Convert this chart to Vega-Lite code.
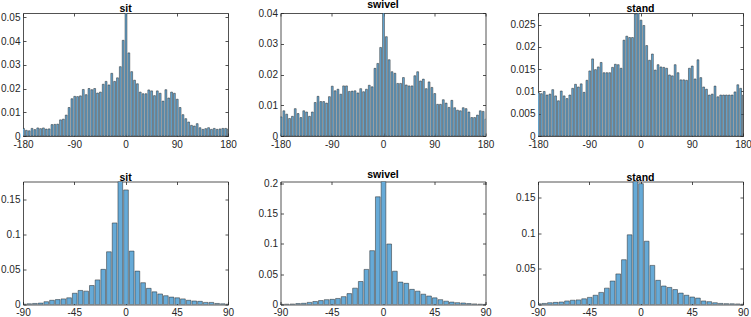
{
  "$schema": "https://vega.github.io/schema/vega-lite/v6.json",
  "background": "white",
  "padding": {"left": 0, "top": -1, "right": 0, "bottom": 0},
  "datasets": {
    "sit_full": [
      {"lo":-182.5,"hi":-177.5,"v":0.0032},{"lo":-177.5,"hi":-172.5,"v":0.0024},{"lo":-172.5,"hi":-167.5,"v":0.0022},
      {"lo":-167.5,"hi":-162.5,"v":0.0032},{"lo":-162.5,"hi":-157.5,"v":0.0027},{"lo":-157.5,"hi":-152.5,"v":0.0034},
      {"lo":-152.5,"hi":-147.5,"v":0.0031},{"lo":-147.5,"hi":-142.5,"v":0.0034},{"lo":-142.5,"hi":-137.5,"v":0.0029},
      {"lo":-137.5,"hi":-132.5,"v":0.0030},{"lo":-132.5,"hi":-127.5,"v":0.0048},{"lo":-127.5,"hi":-122.5,"v":0.0049},
      {"lo":-122.5,"hi":-117.5,"v":0.0050},{"lo":-117.5,"hi":-112.5,"v":0.0068},{"lo":-112.5,"hi":-107.5,"v":0.0071},
      {"lo":-107.5,"hi":-102.5,"v":0.0088},{"lo":-102.5,"hi":-97.5,"v":0.0120},{"lo":-97.5,"hi":-92.5,"v":0.0157},
      {"lo":-92.5,"hi":-87.5,"v":0.0167},{"lo":-87.5,"hi":-82.5,"v":0.0166},{"lo":-82.5,"hi":-77.5,"v":0.0169},
      {"lo":-77.5,"hi":-72.5,"v":0.0196},{"lo":-72.5,"hi":-67.5,"v":0.0174},{"lo":-67.5,"hi":-62.5,"v":0.0200},
      {"lo":-62.5,"hi":-57.5,"v":0.0195},{"lo":-57.5,"hi":-52.5,"v":0.0200},{"lo":-52.5,"hi":-47.5,"v":0.0181},
      {"lo":-47.5,"hi":-42.5,"v":0.0185},{"lo":-42.5,"hi":-37.5,"v":0.0218},{"lo":-37.5,"hi":-32.5,"v":0.0230},
      {"lo":-32.5,"hi":-27.5,"v":0.0215},{"lo":-27.5,"hi":-22.5,"v":0.0264},{"lo":-22.5,"hi":-17.5,"v":0.0230},
      {"lo":-17.5,"hi":-12.5,"v":0.0245},{"lo":-12.5,"hi":-7.5,"v":0.0292},{"lo":-7.5,"hi":-2.5,"v":0.0403},
      {"lo":-2.5,"hi":2.5,"v":0.0518},
      {"lo":2.5,"hi":7.5,"v":0.0350},{"lo":7.5,"hi":12.5,"v":0.0271},{"lo":12.5,"hi":17.5,"v":0.0235},
      {"lo":17.5,"hi":22.5,"v":0.0220},{"lo":22.5,"hi":27.5,"v":0.0185},{"lo":27.5,"hi":32.5,"v":0.0178},
      {"lo":32.5,"hi":37.5,"v":0.0178},{"lo":37.5,"hi":42.5,"v":0.0194},{"lo":42.5,"hi":47.5,"v":0.0190},
      {"lo":47.5,"hi":52.5,"v":0.0170},{"lo":52.5,"hi":57.5,"v":0.0190},{"lo":57.5,"hi":62.5,"v":0.0180},
      {"lo":62.5,"hi":67.5,"v":0.0147},{"lo":67.5,"hi":72.5,"v":0.0195},{"lo":72.5,"hi":77.5,"v":0.0160},
      {"lo":77.5,"hi":82.5,"v":0.0185},{"lo":82.5,"hi":87.5,"v":0.0180},{"lo":87.5,"hi":92.5,"v":0.0155},
      {"lo":92.5,"hi":97.5,"v":0.0120},{"lo":97.5,"hi":102.5,"v":0.0090},{"lo":102.5,"hi":107.5,"v":0.0073},
      {"lo":107.5,"hi":112.5,"v":0.0059},{"lo":112.5,"hi":117.5,"v":0.0045},{"lo":117.5,"hi":122.5,"v":0.0042},
      {"lo":122.5,"hi":127.5,"v":0.0052},{"lo":127.5,"hi":132.5,"v":0.0035},{"lo":132.5,"hi":137.5,"v":0.0028},
      {"lo":137.5,"hi":142.5,"v":0.0031},{"lo":142.5,"hi":147.5,"v":0.0035},{"lo":147.5,"hi":152.5,"v":0.0028},
      {"lo":152.5,"hi":157.5,"v":0.0032},{"lo":157.5,"hi":162.5,"v":0.0028},{"lo":162.5,"hi":167.5,"v":0.0030},
      {"lo":167.5,"hi":172.5,"v":0.0032},{"lo":172.5,"hi":177.5,"v":0.0032},{"lo":177.5,"hi":182.5,"v":0.0030}
    ],
    "swivel_full": [
      {"lo":-182.5,"hi":-177.5,"v":0.0062},{"lo":-177.5,"hi":-172.5,"v":0.0082},{"lo":-172.5,"hi":-167.5,"v":0.0071},
      {"lo":-167.5,"hi":-162.5,"v":0.0057},{"lo":-162.5,"hi":-157.5,"v":0.0064},{"lo":-157.5,"hi":-152.5,"v":0.0089},
      {"lo":-152.5,"hi":-147.5,"v":0.0073},{"lo":-147.5,"hi":-142.5,"v":0.0060},{"lo":-142.5,"hi":-137.5,"v":0.0082},
      {"lo":-137.5,"hi":-132.5,"v":0.0078},{"lo":-132.5,"hi":-127.5,"v":0.0064},{"lo":-127.5,"hi":-122.5,"v":0.0078},
      {"lo":-122.5,"hi":-117.5,"v":0.0109},{"lo":-117.5,"hi":-112.5,"v":0.0129},{"lo":-112.5,"hi":-107.5,"v":0.0112},
      {"lo":-107.5,"hi":-102.5,"v":0.0112},{"lo":-102.5,"hi":-97.5,"v":0.0107},{"lo":-97.5,"hi":-92.5,"v":0.0128},
      {"lo":-92.5,"hi":-87.5,"v":0.0162},{"lo":-87.5,"hi":-82.5,"v":0.0147},{"lo":-82.5,"hi":-77.5,"v":0.0152},
      {"lo":-77.5,"hi":-72.5,"v":0.0136},{"lo":-72.5,"hi":-67.5,"v":0.0163},{"lo":-67.5,"hi":-62.5,"v":0.0163},
      {"lo":-62.5,"hi":-57.5,"v":0.0145},{"lo":-57.5,"hi":-52.5,"v":0.0146},{"lo":-52.5,"hi":-47.5,"v":0.0147},
      {"lo":-47.5,"hi":-42.5,"v":0.0140},{"lo":-42.5,"hi":-37.5,"v":0.0154},{"lo":-37.5,"hi":-32.5,"v":0.0144},
      {"lo":-32.5,"hi":-27.5,"v":0.0152},{"lo":-27.5,"hi":-22.5,"v":0.0165},{"lo":-22.5,"hi":-17.5,"v":0.0160},
      {"lo":-17.5,"hi":-12.5,"v":0.0220},{"lo":-12.5,"hi":-7.5,"v":0.0236},{"lo":-7.5,"hi":-2.5,"v":0.0288},
      {"lo":-2.5,"hi":2.5,"v":0.0400},
      {"lo":2.5,"hi":7.5,"v":0.0323},{"lo":7.5,"hi":12.5,"v":0.0248},{"lo":12.5,"hi":17.5,"v":0.0209},
      {"lo":17.5,"hi":22.5,"v":0.0204},{"lo":22.5,"hi":27.5,"v":0.0171},{"lo":27.5,"hi":32.5,"v":0.0171},
      {"lo":32.5,"hi":37.5,"v":0.0190},{"lo":37.5,"hi":42.5,"v":0.0166},{"lo":42.5,"hi":47.5,"v":0.0163},
      {"lo":47.5,"hi":52.5,"v":0.0163},{"lo":52.5,"hi":57.5,"v":0.0196},{"lo":57.5,"hi":62.5,"v":0.0209},
      {"lo":62.5,"hi":67.5,"v":0.0179},{"lo":67.5,"hi":72.5,"v":0.0185},{"lo":72.5,"hi":77.5,"v":0.0154},
      {"lo":77.5,"hi":82.5,"v":0.0176},{"lo":82.5,"hi":87.5,"v":0.0158},{"lo":87.5,"hi":92.5,"v":0.0138},
      {"lo":92.5,"hi":97.5,"v":0.0103},{"lo":97.5,"hi":102.5,"v":0.0103},{"lo":102.5,"hi":107.5,"v":0.0118},
      {"lo":107.5,"hi":112.5,"v":0.0107},{"lo":112.5,"hi":117.5,"v":0.0093},{"lo":117.5,"hi":122.5,"v":0.0116},
      {"lo":122.5,"hi":127.5,"v":0.0092},{"lo":127.5,"hi":132.5,"v":0.0084},{"lo":132.5,"hi":137.5,"v":0.0082},
      {"lo":137.5,"hi":142.5,"v":0.0092},{"lo":142.5,"hi":147.5,"v":0.0089},{"lo":147.5,"hi":152.5,"v":0.0078},
      {"lo":152.5,"hi":157.5,"v":0.0060},{"lo":157.5,"hi":162.5,"v":0.0060},{"lo":162.5,"hi":167.5,"v":0.0068},
      {"lo":167.5,"hi":172.5,"v":0.0082},{"lo":172.5,"hi":177.5,"v":0.0080},{"lo":177.5,"hi":182.5,"v":0.0055}
    ],
    "stand_full": [
      {"lo":-182.5,"hi":-177.5,"v":0.0097},{"lo":-177.5,"hi":-172.5,"v":0.0095},{"lo":-172.5,"hi":-167.5,"v":0.0100},
      {"lo":-167.5,"hi":-162.5,"v":0.0092},{"lo":-162.5,"hi":-157.5,"v":0.0094},{"lo":-157.5,"hi":-152.5,"v":0.0104},
      {"lo":-152.5,"hi":-147.5,"v":0.0090},{"lo":-147.5,"hi":-142.5,"v":0.0079},{"lo":-142.5,"hi":-137.5,"v":0.0101},
      {"lo":-137.5,"hi":-132.5,"v":0.0090},{"lo":-132.5,"hi":-127.5,"v":0.0084},{"lo":-127.5,"hi":-122.5,"v":0.0092},
      {"lo":-122.5,"hi":-117.5,"v":0.0107},{"lo":-117.5,"hi":-112.5,"v":0.0116},{"lo":-112.5,"hi":-107.5,"v":0.0110},
      {"lo":-107.5,"hi":-102.5,"v":0.0117},{"lo":-102.5,"hi":-97.5,"v":0.0098},{"lo":-97.5,"hi":-92.5,"v":0.0125},
      {"lo":-92.5,"hi":-87.5,"v":0.0146},{"lo":-87.5,"hi":-82.5,"v":0.0173},{"lo":-82.5,"hi":-77.5,"v":0.0149},
      {"lo":-77.5,"hi":-72.5,"v":0.0155},{"lo":-72.5,"hi":-67.5,"v":0.0165},{"lo":-67.5,"hi":-62.5,"v":0.0142},
      {"lo":-62.5,"hi":-57.5,"v":0.0142},{"lo":-57.5,"hi":-52.5,"v":0.0142},{"lo":-52.5,"hi":-47.5,"v":0.0154},
      {"lo":-47.5,"hi":-42.5,"v":0.0161},{"lo":-42.5,"hi":-37.5,"v":0.0160},{"lo":-37.5,"hi":-32.5,"v":0.0152},
      {"lo":-32.5,"hi":-27.5,"v":0.0215},{"lo":-27.5,"hi":-22.5,"v":0.0224},{"lo":-22.5,"hi":-17.5,"v":0.0221},
      {"lo":-17.5,"hi":-12.5,"v":0.0221},{"lo":-12.5,"hi":-7.5,"v":0.0274},{"lo":-7.5,"hi":-2.5,"v":0.0276},
      {"lo":-2.5,"hi":2.5,"v":0.0260},
      {"lo":2.5,"hi":7.5,"v":0.0248},{"lo":7.5,"hi":12.5,"v":0.0203},{"lo":12.5,"hi":17.5,"v":0.0170},
      {"lo":17.5,"hi":22.5,"v":0.0184},{"lo":22.5,"hi":27.5,"v":0.0148},{"lo":27.5,"hi":32.5,"v":0.0160},
      {"lo":32.5,"hi":37.5,"v":0.0155},{"lo":37.5,"hi":42.5,"v":0.0154},{"lo":42.5,"hi":47.5,"v":0.0152},
      {"lo":47.5,"hi":52.5,"v":0.0137},{"lo":52.5,"hi":57.5,"v":0.0135},{"lo":57.5,"hi":62.5,"v":0.0160},
      {"lo":62.5,"hi":67.5,"v":0.0142},{"lo":67.5,"hi":72.5,"v":0.0126},{"lo":72.5,"hi":77.5,"v":0.0126},
      {"lo":77.5,"hi":82.5,"v":0.0125},{"lo":82.5,"hi":87.5,"v":0.0152},{"lo":87.5,"hi":92.5,"v":0.0157},
      {"lo":92.5,"hi":97.5,"v":0.0128},{"lo":97.5,"hi":102.5,"v":0.0171},{"lo":102.5,"hi":107.5,"v":0.0131},
      {"lo":107.5,"hi":112.5,"v":0.0110},{"lo":112.5,"hi":117.5,"v":0.0105},{"lo":117.5,"hi":122.5,"v":0.0092},
      {"lo":122.5,"hi":127.5,"v":0.0094},{"lo":127.5,"hi":132.5,"v":0.0112},{"lo":132.5,"hi":137.5,"v":0.0088},
      {"lo":137.5,"hi":142.5,"v":0.0092},{"lo":142.5,"hi":147.5,"v":0.0092},{"lo":147.5,"hi":152.5,"v":0.0092},
      {"lo":152.5,"hi":157.5,"v":0.0092},{"lo":157.5,"hi":162.5,"v":0.0092},{"lo":162.5,"hi":167.5,"v":0.0099},
      {"lo":167.5,"hi":172.5,"v":0.0115},{"lo":172.5,"hi":177.5,"v":0.0107},{"lo":177.5,"hi":182.5,"v":0.0092}
    ],
    "sit_near": [
      {"lo":-92.5,"hi":-87.5,"v":0.0005},{"lo":-87.5,"hi":-82.5,"v":0.0010},{"lo":-82.5,"hi":-77.5,"v":0.0015},
      {"lo":-77.5,"hi":-72.5,"v":0.0020},{"lo":-72.5,"hi":-67.5,"v":0.0040},{"lo":-67.5,"hi":-62.5,"v":0.0060},
      {"lo":-62.5,"hi":-57.5,"v":0.0070},{"lo":-57.5,"hi":-52.5,"v":0.0080},{"lo":-52.5,"hi":-47.5,"v":0.0095},
      {"lo":-47.5,"hi":-42.5,"v":0.0160},{"lo":-42.5,"hi":-37.5,"v":0.0200},{"lo":-37.5,"hi":-32.5,"v":0.0190},
      {"lo":-32.5,"hi":-27.5,"v":0.0270},{"lo":-27.5,"hi":-22.5,"v":0.0350},{"lo":-22.5,"hi":-17.5,"v":0.0500},
      {"lo":-17.5,"hi":-12.5,"v":0.0750},{"lo":-12.5,"hi":-7.5,"v":0.1160},{"lo":-7.5,"hi":-2.5,"v":0.1750},
      {"lo":-2.5,"hi":2.5,"v":0.1630},{"lo":2.5,"hi":7.5,"v":0.0760},{"lo":7.5,"hi":12.5,"v":0.0475},
      {"lo":12.5,"hi":17.5,"v":0.0310},{"lo":17.5,"hi":22.5,"v":0.0230},{"lo":22.5,"hi":27.5,"v":0.0180},
      {"lo":27.5,"hi":32.5,"v":0.0150},{"lo":32.5,"hi":37.5,"v":0.0125},{"lo":37.5,"hi":42.5,"v":0.0105},
      {"lo":42.5,"hi":47.5,"v":0.0095},{"lo":47.5,"hi":52.5,"v":0.0080},{"lo":52.5,"hi":57.5,"v":0.0060},
      {"lo":57.5,"hi":62.5,"v":0.0050},{"lo":62.5,"hi":67.5,"v":0.0045},{"lo":67.5,"hi":72.5,"v":0.0030},
      {"lo":72.5,"hi":77.5,"v":0.0030},{"lo":77.5,"hi":82.5,"v":0.0015},{"lo":82.5,"hi":87.5,"v":0.0010},
      {"lo":87.5,"hi":92.5,"v":0.0005}
    ],
    "swivel_near": [
      {"lo":-92.5,"hi":-87.5,"v":0.0003},{"lo":-87.5,"hi":-82.5,"v":0.0005},{"lo":-82.5,"hi":-77.5,"v":0.0008},
      {"lo":-77.5,"hi":-72.5,"v":0.0015},{"lo":-72.5,"hi":-67.5,"v":0.0020},{"lo":-67.5,"hi":-62.5,"v":0.0035},
      {"lo":-62.5,"hi":-57.5,"v":0.0050},{"lo":-57.5,"hi":-52.5,"v":0.0065},{"lo":-52.5,"hi":-47.5,"v":0.0080},
      {"lo":-47.5,"hi":-42.5,"v":0.0085},{"lo":-42.5,"hi":-37.5,"v":0.0100},{"lo":-37.5,"hi":-32.5,"v":0.0130},
      {"lo":-32.5,"hi":-27.5,"v":0.0180},{"lo":-27.5,"hi":-22.5,"v":0.0270},{"lo":-22.5,"hi":-17.5,"v":0.0380},
      {"lo":-17.5,"hi":-12.5,"v":0.0580},{"lo":-12.5,"hi":-7.5,"v":0.0890},{"lo":-7.5,"hi":-2.5,"v":0.1780},
      {"lo":-2.5,"hi":2.5,"v":0.2033},{"lo":2.5,"hi":7.5,"v":0.1000},{"lo":7.5,"hi":12.5,"v":0.0550},
      {"lo":12.5,"hi":17.5,"v":0.0370},{"lo":17.5,"hi":22.5,"v":0.0350},{"lo":22.5,"hi":27.5,"v":0.0250},
      {"lo":27.5,"hi":32.5,"v":0.0220},{"lo":32.5,"hi":37.5,"v":0.0170},{"lo":37.5,"hi":42.5,"v":0.0140},
      {"lo":42.5,"hi":47.5,"v":0.0110},{"lo":47.5,"hi":52.5,"v":0.0080},{"lo":52.5,"hi":57.5,"v":0.0055},
      {"lo":57.5,"hi":62.5,"v":0.0040},{"lo":62.5,"hi":67.5,"v":0.0030},{"lo":67.5,"hi":72.5,"v":0.0025},
      {"lo":72.5,"hi":77.5,"v":0.0015},{"lo":77.5,"hi":82.5,"v":0.0010},{"lo":82.5,"hi":87.5,"v":0.0005},
      {"lo":87.5,"hi":92.5,"v":0.0003}
    ],
    "stand_near": [
      {"lo":-92.5,"hi":-87.5,"v":0.0010},{"lo":-87.5,"hi":-82.5,"v":0.0015},{"lo":-82.5,"hi":-77.5,"v":0.0025},
      {"lo":-77.5,"hi":-72.5,"v":0.0030},{"lo":-72.5,"hi":-67.5,"v":0.0035},{"lo":-67.5,"hi":-62.5,"v":0.0050},
      {"lo":-62.5,"hi":-57.5,"v":0.0060},{"lo":-57.5,"hi":-52.5,"v":0.0065},{"lo":-52.5,"hi":-47.5,"v":0.0080},
      {"lo":-47.5,"hi":-42.5,"v":0.0100},{"lo":-42.5,"hi":-37.5,"v":0.0130},{"lo":-37.5,"hi":-32.5,"v":0.0170},
      {"lo":-32.5,"hi":-27.5,"v":0.0230},{"lo":-27.5,"hi":-22.5,"v":0.0330},{"lo":-22.5,"hi":-17.5,"v":0.0430},
      {"lo":-17.5,"hi":-12.5,"v":0.0630},{"lo":-12.5,"hi":-7.5,"v":0.0980},{"lo":-7.5,"hi":-2.5,"v":0.1730},
      {"lo":-2.5,"hi":2.5,"v":0.1700},{"lo":2.5,"hi":7.5,"v":0.0890},{"lo":7.5,"hi":12.5,"v":0.0550},
      {"lo":12.5,"hi":17.5,"v":0.0340},{"lo":17.5,"hi":22.5,"v":0.0260},{"lo":22.5,"hi":27.5,"v":0.0240},
      {"lo":27.5,"hi":32.5,"v":0.0210},{"lo":32.5,"hi":37.5,"v":0.0160},{"lo":37.5,"hi":42.5,"v":0.0130},
      {"lo":42.5,"hi":47.5,"v":0.0105},{"lo":47.5,"hi":52.5,"v":0.0090},{"lo":52.5,"hi":57.5,"v":0.0050},
      {"lo":57.5,"hi":62.5,"v":0.0040},{"lo":62.5,"hi":67.5,"v":0.0025},{"lo":67.5,"hi":72.5,"v":0.0015},
      {"lo":72.5,"hi":77.5,"v":0.0012},{"lo":77.5,"hi":82.5,"v":0.0010},{"lo":82.5,"hi":87.5,"v":0.0008},
      {"lo":87.5,"hi":92.5,"v":0.0005}
    ]
  },
  "columns": 3,
  "spacing": {"row": 45.5, "column": 52.5},
  "bounds": "flush",
  "concat": [
    {
      "data": {"name": "sit_full"}, "width": 205, "height": 123, "title": {"text": "sit"},
      "layer": [
        {"mark": {"type": "bar", "clip": true, "fill": "#66aad7", "stroke": "#262626", "strokeWidth": 0.5},
         "encoding": {
           "x": {"field": "lo", "type": "quantitative", "bin": {"binned": true}, "scale": {"domain": [-180, 180], "nice": false, "zero": false}, "axis": {"orient": "bottom", "title": null, "values": [-180, -90, 0, 90, 180]}},
           "x2": {"field": "hi"},
           "y": {"field": "v", "type": "quantitative", "scale": {"domain": [0, 0.0518], "nice": false}, "axis": {"orient": "left", "title": null, "values": [0, 0.01, 0.02, 0.03, 0.04, 0.05]}}}},
        {"transform": [{"filter": "false"}],
         "mark": {"type": "rule", "clip": true},
         "encoding": {
           "x": {"field": "lo", "type": "quantitative", "scale": {"domain": [-180, 180], "nice": false, "zero": false}, "axis": {"orient": "top", "title": null, "labels": false, "values": [-180, -90, 0, 90, 180]}},
           "y": {"field": "v", "type": "quantitative", "scale": {"domain": [0, 0.0518], "nice": false}, "axis": {"orient": "right", "title": null, "labels": false, "values": [0, 0.01, 0.02, 0.03, 0.04, 0.05]}}}}
      ],
      "resolve": {"axis": {"x": "independent", "y": "independent"}}
    },
    {
      "data": {"name": "swivel_full"}, "width": 205, "height": 123, "title": {"text": "swivel"},
      "layer": [
        {"mark": {"type": "bar", "clip": true, "fill": "#66aad7", "stroke": "#262626", "strokeWidth": 0.5},
         "encoding": {
           "x": {"field": "lo", "type": "quantitative", "bin": {"binned": true}, "scale": {"domain": [-180, 180], "nice": false, "zero": false}, "axis": {"orient": "bottom", "title": null, "values": [-180, -90, 0, 90, 180]}},
           "x2": {"field": "hi"},
           "y": {"field": "v", "type": "quantitative", "scale": {"domain": [0, 0.04], "nice": false}, "axis": {"orient": "left", "title": null, "values": [0, 0.01, 0.02, 0.03, 0.04]}}}},
        {"transform": [{"filter": "false"}],
         "mark": {"type": "rule", "clip": true},
         "encoding": {
           "x": {"field": "lo", "type": "quantitative", "scale": {"domain": [-180, 180], "nice": false, "zero": false}, "axis": {"orient": "top", "title": null, "labels": false, "values": [-180, -90, 0, 90, 180]}},
           "y": {"field": "v", "type": "quantitative", "scale": {"domain": [0, 0.04], "nice": false}, "axis": {"orient": "right", "title": null, "labels": false, "values": [0, 0.01, 0.02, 0.03, 0.04]}}}}
      ],
      "resolve": {"axis": {"x": "independent", "y": "independent"}}
    },
    {
      "data": {"name": "stand_full"}, "width": 205, "height": 123, "title": {"text": "stand"},
      "layer": [
        {"mark": {"type": "bar", "clip": true, "fill": "#66aad7", "stroke": "#262626", "strokeWidth": 0.5},
         "encoding": {
           "x": {"field": "lo", "type": "quantitative", "bin": {"binned": true}, "scale": {"domain": [-180, 180], "nice": false, "zero": false}, "axis": {"orient": "bottom", "title": null, "values": [-180, -90, 0, 90, 180]}},
           "x2": {"field": "hi"},
           "y": {"field": "v", "type": "quantitative", "scale": {"domain": [0, 0.0276], "nice": false}, "axis": {"orient": "left", "title": null, "values": [0, 0.005, 0.01, 0.015, 0.02, 0.025]}}}},
        {"transform": [{"filter": "false"}],
         "mark": {"type": "rule", "clip": true},
         "encoding": {
           "x": {"field": "lo", "type": "quantitative", "scale": {"domain": [-180, 180], "nice": false, "zero": false}, "axis": {"orient": "top", "title": null, "labels": false, "values": [-180, -90, 0, 90, 180]}},
           "y": {"field": "v", "type": "quantitative", "scale": {"domain": [0, 0.0276], "nice": false}, "axis": {"orient": "right", "title": null, "labels": false, "values": [0, 0.005, 0.01, 0.015, 0.02, 0.025]}}}}
      ],
      "resolve": {"axis": {"x": "independent", "y": "independent"}}
    },
    {
      "data": {"name": "sit_near"}, "width": 205, "height": 123, "title": {"text": "sit"},
      "layer": [
        {"mark": {"type": "bar", "clip": true, "fill": "#66aad7", "stroke": "#262626", "strokeWidth": 0.5},
         "encoding": {
           "x": {"field": "lo", "type": "quantitative", "bin": {"binned": true}, "scale": {"domain": [-90, 90], "nice": false, "zero": false}, "axis": {"orient": "bottom", "title": null, "values": [-90, -45, 0, 45, 90]}},
           "x2": {"field": "hi"},
           "y": {"field": "v", "type": "quantitative", "scale": {"domain": [0, 0.175], "nice": false}, "axis": {"orient": "left", "title": null, "values": [0, 0.05, 0.1, 0.15]}}}},
        {"transform": [{"filter": "false"}],
         "mark": {"type": "rule", "clip": true},
         "encoding": {
           "x": {"field": "lo", "type": "quantitative", "scale": {"domain": [-90, 90], "nice": false, "zero": false}, "axis": {"orient": "top", "title": null, "labels": false, "values": [-90, -45, 0, 45, 90]}},
           "y": {"field": "v", "type": "quantitative", "scale": {"domain": [0, 0.175], "nice": false}, "axis": {"orient": "right", "title": null, "labels": false, "values": [0, 0.05, 0.1, 0.15]}}}}
      ],
      "resolve": {"axis": {"x": "independent", "y": "independent"}}
    },
    {
      "data": {"name": "swivel_near"}, "width": 205, "height": 123, "title": {"text": "swivel"},
      "layer": [
        {"mark": {"type": "bar", "clip": true, "fill": "#66aad7", "stroke": "#262626", "strokeWidth": 0.5},
         "encoding": {
           "x": {"field": "lo", "type": "quantitative", "bin": {"binned": true}, "scale": {"domain": [-90, 90], "nice": false, "zero": false}, "axis": {"orient": "bottom", "title": null, "values": [-90, -45, 0, 45, 90]}},
           "x2": {"field": "hi"},
           "y": {"field": "v", "type": "quantitative", "scale": {"domain": [0, 0.2033], "nice": false}, "axis": {"orient": "left", "title": null, "values": [0, 0.05, 0.1, 0.15, 0.2]}}}},
        {"transform": [{"filter": "false"}],
         "mark": {"type": "rule", "clip": true},
         "encoding": {
           "x": {"field": "lo", "type": "quantitative", "scale": {"domain": [-90, 90], "nice": false, "zero": false}, "axis": {"orient": "top", "title": null, "labels": false, "values": [-90, -45, 0, 45, 90]}},
           "y": {"field": "v", "type": "quantitative", "scale": {"domain": [0, 0.2033], "nice": false}, "axis": {"orient": "right", "title": null, "labels": false, "values": [0, 0.05, 0.1, 0.15, 0.2]}}}}
      ],
      "resolve": {"axis": {"x": "independent", "y": "independent"}}
    },
    {
      "data": {"name": "stand_near"}, "width": 205, "height": 123, "title": {"text": "stand"},
      "layer": [
        {"mark": {"type": "bar", "clip": true, "fill": "#66aad7", "stroke": "#262626", "strokeWidth": 0.5},
         "encoding": {
           "x": {"field": "lo", "type": "quantitative", "bin": {"binned": true}, "scale": {"domain": [-90, 90], "nice": false, "zero": false}, "axis": {"orient": "bottom", "title": null, "values": [-90, -45, 0, 45, 90]}},
           "x2": {"field": "hi"},
           "y": {"field": "v", "type": "quantitative", "scale": {"domain": [0, 0.173], "nice": false}, "axis": {"orient": "left", "title": null, "values": [0, 0.05, 0.1, 0.15]}}}},
        {"transform": [{"filter": "false"}],
         "mark": {"type": "rule", "clip": true},
         "encoding": {
           "x": {"field": "lo", "type": "quantitative", "scale": {"domain": [-90, 90], "nice": false, "zero": false}, "axis": {"orient": "top", "title": null, "labels": false, "values": [-90, -45, 0, 45, 90]}},
           "y": {"field": "v", "type": "quantitative", "scale": {"domain": [0, 0.173], "nice": false}, "axis": {"orient": "right", "title": null, "labels": false, "values": [0, 0.05, 0.1, 0.15]}}}}
      ],
      "resolve": {"axis": {"x": "independent", "y": "independent"}}
    }
  ],
  "config": {
    "view": {"stroke": null},
    "font": "Liberation Sans",
    "axis": {
      "grid": false,
      "domainColor": "#262626", "domainWidth": 0.8,
      "tickColor": "#262626", "tickWidth": 0.8, "tickSize": -3,
      "labelPadding": 6, "labelFont": "Liberation Sans", "labelFontSize": 10, "labelColor": "#262626",
      "labelFlush": false, "labelOverlap": false, "labelExpr": "'' + datum.value",
      "zindex": 1
    },
    "title": {"font": "Liberation Sans", "fontSize": 10.5, "fontWeight": "bold", "color": "#000000", "offset": -2, "frame": "group", "anchor": "middle"}
  }
}
